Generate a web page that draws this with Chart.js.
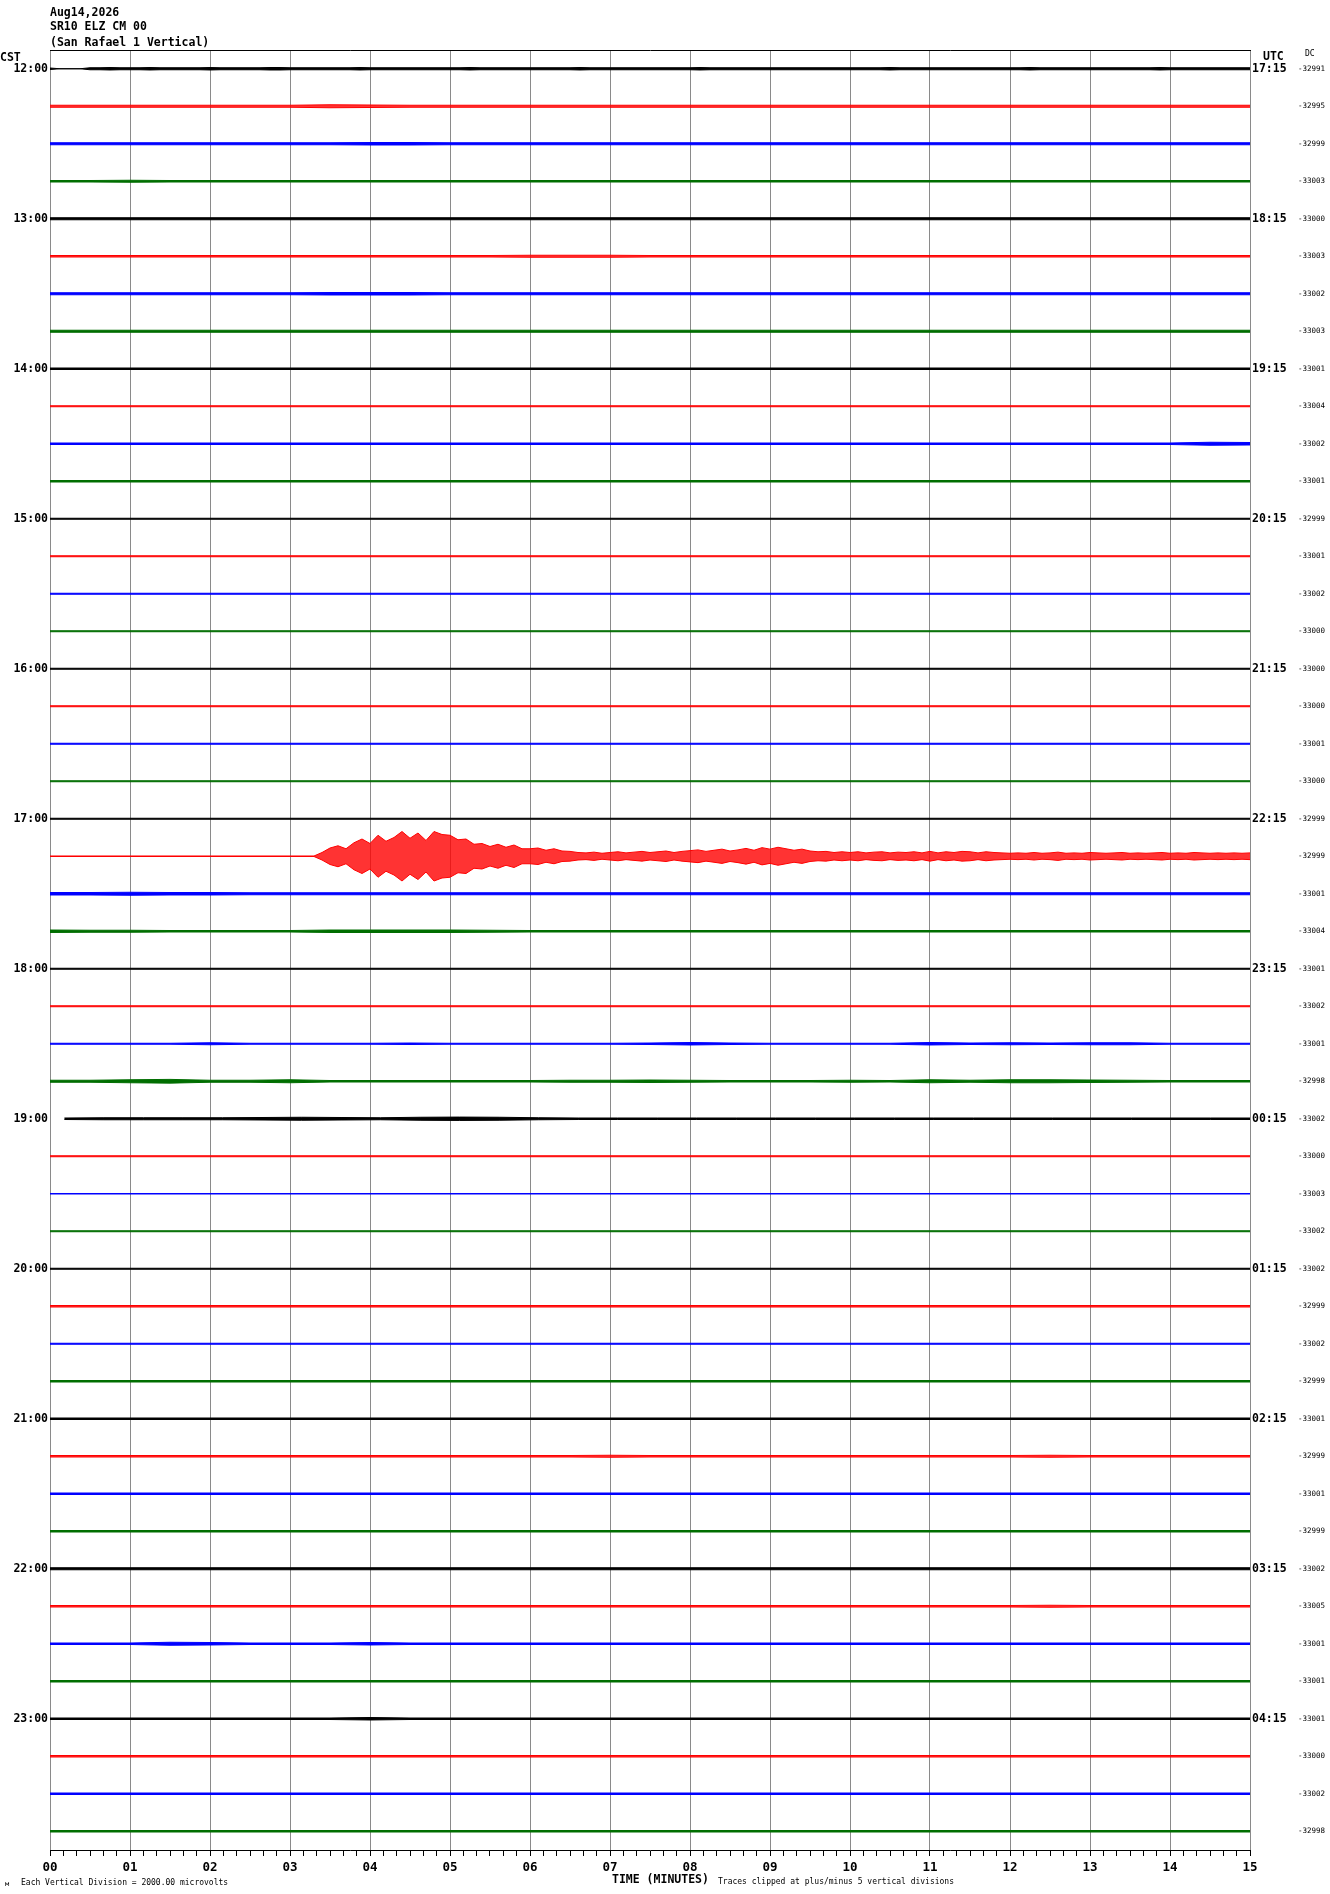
<!DOCTYPE html>
<html><head><meta charset="utf-8">
<script src="https://cdn.jsdelivr.net/npm/chart.js@4.4.1/dist/chart.umd.min.js"></script>
<style>
html,body{margin:0;padding:0;background:#fff;}
#wrap{position:relative;width:1330px;height:1894px;overflow:hidden;background:#fff;}
#c{position:absolute;left:0;top:0;}
.t{position:absolute;font-family:'DejaVu Sans Mono',monospace;color:#000;white-space:pre;}
.b{font-weight:bold;font-size:11.5px;line-height:12px;}
.s{font-size:8px;line-height:9px;}
</style></head><body>
<div id="wrap">
<canvas id="c" width="1330" height="1894"></canvas>
<div class="t b" style="left:50px;top:6px">Aug14,2026</div>
<div class="t b" style="left:50px;top:20px">SR10 ELZ CM 00</div>
<div class="t b" style="left:50px;top:36px">(San Rafael 1 Vertical)</div>
<div class="t b" style="left:0px;top:51px">CST</div>
<div class="t b" style="left:1263px;top:50px">UTC</div>
<div class="t s" style="left:1305px;top:49px">DC</div>
<div class="t b" style="left:612px;top:1873px">TIME (MINUTES)</div>
<div class="t s" style="left:718px;top:1877px">Traces clipped at plus/minus 5 vertical divisions</div>
<div class="t s" style="left:21px;top:1878px">Each Vertical Division = 2000.00 microvolts</div>
<div class="t s" style="left:5px;top:1880px;font-size:7px">м</div>
</div>
<script>
// ---- labels ----
const cstLabels = ['12:00','13:00','14:00','15:00','16:00','17:00','18:00','19:00','20:00','21:00','22:00','23:00'];
const utcLabels = ['17:15','18:15','19:15','20:15','21:15','22:15','23:15','00:15','01:15','02:15','03:15','04:15'];
const minuteLabels = ['00','01','02','03','04','05','06','07','08','09','10','11','12','13','14','15'];
const dcValues = [-32991,-32995,-32999,-33003,-33000,-33003,-33002,-33003,-33001,-33004,-33002,-33001,
  -32999,-33001,-33002,-33000,-33000,-33000,-33001,-33000,-32999,-32999,-33001,-33004,
  -33001,-33002,-33001,-32998,-33002,-33000,-33003,-33002,-33002,-32999,-33002,-32999,
  -33001,-32999,-33001,-32999,-33002,-33005,-33001,-33001,-33001,-33000,-33002,-32998];
const traceColors = ['#000000','#ff0000','#0000ff','#006e00'];
const traceFill = ['#000000','rgba(255,0,0,0.8)','#0000ff','#006e00'];
// first sample time (minutes) of each trace
const traceStart = [0,0,0,0, 0,0,0,0, 0,0,0,0, 0,0,0,0, 0,0,0,0, 0,0,0,0, 0,0,0,0, 0.18,0,0,0, 0,0,0,0, 0,0,0,0, 0,0,0,0, 0,0,0,0];

// ---- trace envelopes: half amplitude, hundredths of trace spacing, evenly spaced in time ----
const t1200 = [2,0,0,0,2.7,2.7,3.3,2.7,2.7,2.7, 3.3,2.7,2.7,2.7,2.7,2.7,3.3,2.7,2.7,2.7, 2.7,2.7,3.3,3.3,2.7,2.7,2.7,2.7,2.7,2.7, 2.7,3.3,2.7,2.7,2.7,2.7,2.7,2.7,2.7,2.7, 2.7,2.7,3.3,2.7,2.7,2.7,2.7,2.7,2.7,2.7, 2.7,2.7,2.7,3.3,2.7,2.7,2.7,2.7,2.7,2.7, 2.7,2.7,2.7,2.7,2.7,3.3,2.7,2.7,2.7,2.7, 2.7,2.7,2.7,2.7,2.7,2.7,2.7,2.7,2.7,2.7, 2.7,2.7,2.7,2.7,3.3,2.7,2.7,2.7,2.7,2.7, 2.7,2.7,2.7,2.7,2.7,2.7,2.7,2.7,3.3,2.7, 2.7,2.7,2.7,2.7,2.7,2.7,2.7,2.7,2.7,2.7, 2.7,3.3,2.7,2.7,2.7,2.7,2.7,2.7,2.7,2.7, 2.7];
const t1215 = [2.7,2.7,2.7,2.7,2.7,2.7,2.7,4,3.3,2.7, 2.7,2.7,2.7,2.7,2.7,2.7,2.7,2.7,2.7,2.7, 2.7,2.7,2.7,2.7,2.7,2.7,2.7,2.7,2.7,2.7, 2.7];
const t1230 = [2.7,2.7,2.7,2.7,2.7,2.7,2.7,2.7,3.3,3.3, 2.7,2.7,2.7,2.7,2.7,2.7,2.7,2.7,2.7,2.7, 2.7,2.7,2.7,2.7,2.7,2.7,2.7,2.7,2.7,2.7, 2.7];
const t1245 = [2,2,2.7,2,2,2,2,2,2,2, 2,2,2,2,2,2,2,2,2,2, 2,2,2,2,2,2,2,2,2,2, 2];
const t1300 = [2.7,2.7,2.7,2.7,2.7,2.7,2.7,2.7,2.7,2.7, 2.7,2.7,2.7,2.7,2.7,2.7,2.7,2.7,2.7,2.7, 2.7,2.7,2.7,2.7,2.7,2.7,2.7,2.7,2.7,2.7, 2.7];
const t1315 = [2,2,2,2,2,2,2,2,2,2, 2,2,2.7,2.7,2.7,2,2,2,2,2, 2,2,2,2,2,2,2,2,2,2, 2];
const t1330 = [2.7,2.7,2.7,2.7,2.7,2.7,2.7,3.3,3.3,3.3, 2.7,2.7,2.7,2.7,2.7,2.7,2.7,2.7,2.7,2.7, 2.7,2.7,2.7,2.7,2.7,2.7,2.7,2.7,2.7,2.7, 2.7];
const t1345 = [2.7,2.7,2.7,2.7,2.7,2.7,2.7,2.7,2.7,2.7, 2.7,2.7,2.7,2.7,2.7,2.7,2.7,2.7,2.7,2.7, 2.7,2.7,2.7,2.7,2.7,2.7,2.7,2.7,2.7,2.7, 2.7];
const t1400 = [2,2,2,2,2,2,2,2,2,2, 2,2,2,2,2,2,2,2,2,2, 2,2,2,2,2,2,2,2,2,2, 2];
const t1415 = [1.3,1.3,1.3,1.3,1.3,1.3,1.3,1.3,1.3,1.3, 1.3,1.3,1.3,1.3,1.3,1.3,1.3,1.3,1.3,1.3, 1.3,1.3,1.3,1.3,1.3,1.3,1.3,1.3,1.3,1.3, 1.3];
const t1430 = [2,2,2,2,2,2,2,2,2,2, 2,2,2,2,2,2,2,2,2,2, 2,2,2,2,2,2,2,2,2,4, 3.3];
const t1445 = [2,2,2,2,2,2,2,2,2,2, 2,2,2,2,2,2,2,2,2,2, 2,2,2,2,2,2,2,2,2,2, 2];
const t1500 = [1.3,1.3,1.3,1.3,1.3,1.3,1.3,1.3,1.3,1.3, 1.3,1.3,1.3,1.3,1.3,1.3,1.3,1.3,1.3,1.3, 1.3,1.3,1.3,1.3,1.3,1.3,1.3,1.3,1.3,1.3, 1.3];
const t1515 = [1.3,1.3,1.3,1.3,1.3,1.3,1.3,1.3,1.3,1.3, 1.3,1.3,1.3,1.3,1.3,1.3,1.3,1.3,1.3,1.3, 1.3,1.3,1.3,1.3,1.3,1.3,1.3,1.3,1.3,1.3, 1.3];
const t1530 = [1.3,1.3,1.3,1.3,1.3,1.3,1.3,1.3,1.3,1.3, 1.3,1.3,1.3,1.3,1.3,1.3,1.3,1.3,1.3,1.3, 1.3,1.3,1.3,1.3,1.3,1.3,1.3,1.3,1.3,1.3, 1.3];
const t1545 = [1.3,1.3,1.3,1.3,1.3,1.3,1.3,1.3,1.3,1.3, 1.3,1.3,1.3,1.3,1.3,1.3,1.3,1.3,1.3,1.3, 1.3,1.3,1.3,1.3,1.3,1.3,1.3,1.3,1.3,1.3, 1.3];
const t1600 = [1.3,1.3,1.3,1.3,1.3,1.3,1.3,1.3,1.3,1.3, 1.3,1.3,1.3,1.3,1.3,1.3,1.3,1.3,1.3,1.3, 1.3,1.3,1.3,1.3,1.3,1.3,1.3,1.3,1.3,1.3, 1.3];
const t1615 = [1.3,1.3,1.3,1.3,1.3,1.3,1.3,1.3,1.3,1.3, 1.3,1.3,1.3,1.3,1.3,1.3,1.3,1.3,1.3,1.3, 1.3,1.3,1.3,1.3,1.3,1.3,1.3,1.3,1.3,1.3, 1.3];
const t1630 = [1.3,1.3,1.3,1.3,1.3,1.3,1.3,1.3,1.3,1.3, 1.3,1.3,1.3,1.3,1.3,1.3,1.3,1.3,1.3,1.3, 1.3,1.3,1.3,1.3,1.3,1.3,1.3,1.3,1.3,1.3, 1.3];
const t1645 = [1.3,1.3,1.3,1.3,1.3,1.3,1.3,1.3,1.3,1.3, 1.3,1.3,1.3,1.3,1.3,1.3,1.3,1.3,1.3,1.3, 1.3,1.3,1.3,1.3,1.3,1.3,1.3,1.3,1.3,1.3, 1.3];
const t1700 = [1.3,1.3,1.3,1.3,1.3,1.3,1.3,1.3,1.3,1.3, 1.3,1.3,1.3,1.3,1.3,1.3,1.3,1.3,1.3,1.3, 1.3,1.3,1.3,1.3,1.3,1.3,1.3,1.3,1.3,1.3, 1.3];
const t1715 = [0.7,0.7,0.7,0.7,0.7,0.7,0.7,0.7,0.7,0.7, 0.7,0.7,0.7,0.7,0.7,0.7,0.7,0.7,0.7,0.7, 0.7,0.7,0.7,0.7,0.7,0.7,0.7,0.7,0.7,0.7, 0.7,0.7,0.7,0.7,
  10,22,28,20,36,46, 34,56,40,50,66,48,62,42,66,58, 56,44,46,32,34,26,32,24,30,20,
  20,22,16,20,14,13,10,9,11,8, 10,12,9,11,13,10,12,14,10,13, 15,17,13,16,19,14,17,21,16,23,
  19,24,20,16,19,14,12,13,10,12, 10,12,9,11,12,9,11,10,12,9, 13,9,12,10,13,12,9,12,10,9,
  8,9,8,10,8,9,11,8,9,8, 10,9,8,9,10,8,9,8,9,10, 8,9,8,10,9,8,9,8,9,8, 9];
const t1730 = [3.3,3.3,4,3.3,3.3,2.7,2.7,2.7,2.7,2.7, 2.7,2.7,2.7,2.7,2.7,2.7,2.7,2.7,2.7,2.7, 2.7,2.7,2.7,2.7,2.7,2.7,2.7,2.7,2.7,2.7, 2.7];
const t1745 = [3.3,2.7,2.7,2,2,2,2,3.3,3.3,3.3, 3.3,2.7,2,2,2,2,2,2,2,2, 2,2,2,2,2,2,2,2,2,2, 2];
const t1800 = [1.3,1.3,1.3,1.3,1.3,1.3,1.3,1.3,1.3,1.3, 1.3,1.3,1.3,1.3,1.3,1.3,1.3,1.3,1.3,1.3, 1.3,1.3,1.3,1.3,1.3,1.3,1.3,1.3,1.3,1.3, 1.3];
const t1815 = [1.3,1.3,1.3,1.3,1.3,1.3,1.3,1.3,1.3,1.3, 1.3,1.3,1.3,1.3,1.3,1.3,1.3,1.3,1.3,1.3, 1.3,1.3,1.3,1.3,1.3,1.3,1.3,1.3,1.3,1.3, 1.3];
const t1830 = [1.3,1.3,1.3,1.3,2.7,1.3,1.3,1.3,1.3,2, 1.3,1.3,1.3,1.3,1.3,2,3.3,2,1.3,1.3, 1.3,1.3,3.3,2,2.7,2,2.7,2.7,1.3,1.3, 1.3];
const t1845 = [2.7,2.7,4,5,2.7,2.7,4,2,2,2, 2,2,2,2.7,2.7,3.3,2.7,2,2,2, 2.7,2,4,2.7,4,4,3.3,2.7,2,2, 2];
const t1900 = [2,2.7,2.7,2.7,2.7,3.3,4,3.3,2.7,4, 4.5,4,2.7,2,2,2,2,2,2,2, 2,2,2,2,2,2,2,2,2,2, 2];
const t1915 = [1.3,1.3,1.3,1.3,1.3,1.3,1.3,1.3,1.3,1.3, 1.3,1.3,1.3,1.3,1.3,1.3,1.3,1.3,1.3,1.3, 1.3,1.3,1.3,1.3,1.3,1.3,1.3,1.3,1.3,1.3, 1.3];
const t1930 = [0.7,0.7,0.7,0.7,0.7,0.7,0.7,0.7,0.7,0.7, 0.7,0.7,0.7,0.7,0.7,0.7,0.7,0.7,0.7,0.7, 0.7,0.7,0.7,0.7,0.7,0.7,0.7,0.7,0.7,0.7, 0.7];
const t1945 = [1.3,1.3,1.3,1.3,1.3,1.3,1.3,1.3,1.3,1.3, 1.3,1.3,1.3,1.3,1.3,1.3,1.3,1.3,1.3,1.3, 1.3,1.3,1.3,1.3,1.3,1.3,1.3,1.3,1.3,1.3, 1.3];
const t2000 = [1.3,1.3,1.3,1.3,1.3,1.3,1.3,1.3,1.3,1.3, 1.3,1.3,1.3,1.3,1.3,1.3,1.3,1.3,1.3,1.3, 1.3,1.3,1.3,1.3,1.3,1.3,1.3,1.3,1.3,1.3, 1.3];
const t2015 = [2,2,2,2,2,2,2,2,2,2, 2,2,2,2,2,2,2,2,2,2, 2,2,2,2,2,2,2,2,2,2, 2];
const t2030 = [1.3,1.3,1.3,1.3,1.3,1.3,1.3,1.3,1.3,1.3, 1.3,1.3,1.3,1.3,1.3,1.3,1.3,1.3,1.3,1.3, 1.3,1.3,1.3,1.3,1.3,1.3,1.3,1.3,1.3,1.3, 1.3];
const t2045 = [2,2,2,2,2,2,2,2,2,2, 2,2,2,2,2,2,2,2,2,2, 2,2,2,2,2,2,2,2,2,2, 2];
const t2100 = [2,2,2,2,2,2,2,2,2,2, 2,2,2,2,2,2,2,2,2,2, 2,2,2,2,2,2,2,2,2,2, 2];
const t2115 = [2,2,2,2,2,2,2,2,2,2, 2,2,2,2,2.7,2,2,2,2,2, 2,2,2,2,2,2.7,2,2,2,2, 2];
const t2130 = [2,2,2,2,2,2,2,2,2,2, 2,2,2,2,2,2,2,2,2,2, 2,2,2,2,2,2,2,2,2,2, 2];
const t2145 = [2,2,2,2,2,2,2,2,2,2, 2,2,2,2,2,2,2,2,2,2, 2,2,2,2,2,2,2,2,2,2, 2];
const t2200 = [2.7,2.7,2.7,2.7,2.7,2.7,2.7,2.7,2.7,2.7, 2.7,2.7,2.7,2.7,2.7,2.7,2.7,2.7,2.7,2.7, 2.7,2.7,2.7,2.7,2.7,2.7,2.7,2.7,2.7,2.7, 2.7];
const t2215 = [2,2,2,2,2,2,2,2,2,2, 2,2,2,2,2,2,2,2,2,2, 2,2,2,2,2,2.7,2,2,2,2, 2];
const t2230 = [2,2,2,4,3.3,2,2,2,3.3,2, 2,2,2,2,2,2,2,2,2,2, 2,2,2,2,2,2,2,2,2,2, 2];
const t2245 = [2,2,2,2,2,2,2,2,2,2, 2,2,2,2,2,2,2,2,2,2, 2,2,2,2,2,2,2,2,2,2, 2];
const t2300 = [2,2,2,2,2,2,2,2,3.3,2, 2,2,2,2,2,2,2,2,2,2, 2,2,2,2,2,2,2,2,2,2, 2];
const t2315 = [2,2,2,2,2,2,2,2,2,2, 2,2,2,2,2,2,2,2,2,2, 2,2,2,2,2,2,2,2,2,2, 2];
const t2330 = [2,2,2,2,2,2,2,2,2,2, 2,2,2,2,2,2,2,2,2,2, 2,2,2,2,2,2,2,2,2,2, 2];
const t2345 = [2,2,2,2,2,2,2,2,2,2, 2,2,2,2,2,2,2,2,2,2, 2,2,2,2,2,2,2,2,2,2, 2];

const traceAmps = [t1200,t1215,t1230,t1245,t1300,t1315,t1330,t1345,t1400,t1415,t1430,t1445,
  t1500,t1515,t1530,t1545,t1600,t1615,t1630,t1645,t1700,t1715,t1730,t1745,
  t1800,t1815,t1830,t1845,t1900,t1915,t1930,t1945,t2000,t2015,t2030,t2045,
  t2100,t2115,t2130,t2145,t2200,t2215,t2230,t2245,t2300,t2315,t2330,t2345];

const TRACE_END = 15;
const datasets = [];
traceAmps.forEach((amps, i) => {
  const col = traceColors[i % 4];
  const s = traceStart[i];
  const step = (TRACE_END - s) / (amps.length - 1);
  const upper = amps.map((a, k) => ({x: s + k * step, y: i - a / 100}));
  const lower = amps.map((a, k) => ({x: s + k * step, y: i + a / 100}));
  datasets.push({data: upper, borderColor: col, borderWidth: 1, pointRadius: 0, fill: false, tension: 0});
  datasets.push({data: lower, borderColor: col, backgroundColor: traceFill[i % 4], borderWidth: 1, pointRadius: 0, fill: '-1', tension: 0});
});

const rowTicks4 = cstLabels.map((_, j) => ({value: j * 4}));
const allRowTicks = dcValues.map((_, j) => ({value: j}));
const boldFont = {family: 'DejaVu Sans Mono', weight: 'bold', size: 11.5};

new Chart(document.getElementById('c'), {
  type: 'line',
  data: {datasets},
  options: {
    responsive: false, animation: false, devicePixelRatio: 1, events: [],
    layout: {padding: {top: 50, left: 0, right: 0, bottom: 0}},
    plugins: {legend: {display: false}, tooltip: {enabled: false}},
    scales: {
      x: {
        type: 'linear', position: 'bottom', min: 0, max: 15,
        afterBuildTicks: s => { s.ticks = Array.from({length: 91}, (_, k) => ({value: k / 6})); },
        afterFit: s => { s.height = 44; },
        ticks: {autoSkip: false, maxRotation: 0, minRotation: 0, padding: 4, color: '#000', font: {family: 'DejaVu Sans Mono', weight: 'bold', size: 12.5},
          callback: (v, idx) => idx % 6 === 0 ? minuteLabels[idx / 6] : ''},
        grid: {drawOnChartArea: true, drawTicks: true, tickLength: 6, lineWidth: 1,
          color: ctx => (ctx.index % 6 === 0 ? '#8a8a8a' : 'rgba(0,0,0,0)'), tickColor: '#000'},
        border: {display: true, color: '#000', width: 1}
      },
      xTop: {
        type: 'linear', position: 'top', min: 0, max: 15,
        afterFit: s => { s.height = 0; },
        ticks: {display: false}, grid: {display: false, drawTicks: false},
        border: {display: true, color: '#000', width: 1}
      },
      y: {
        type: 'linear', position: 'left', min: -0.5, max: 47.5, reverse: true,
        afterBuildTicks: s => { s.ticks = rowTicks4.map(t => ({value: t.value})); },
        afterFit: s => { s.width = 50; },
        ticks: {autoSkip: false, padding: 2, color: '#000', font: boldFont, callback: (v, idx) => cstLabels[idx]},
        grid: {display: false, drawTicks: false}, border: {display: false}
      },
      y2: {
        type: 'linear', position: 'right', min: -0.5, max: 47.5, reverse: true,
        afterBuildTicks: s => { s.ticks = rowTicks4.map(t => ({value: t.value})); },
        afterFit: s => { s.width = 47; },
        ticks: {autoSkip: false, padding: 2, color: '#000', font: boldFont, callback: (v, idx) => utcLabels[idx]},
        grid: {display: false, drawTicks: false}, border: {display: false}
      },
      y3: {
        type: 'linear', position: 'right', min: -0.5, max: 47.5, reverse: true,
        afterBuildTicks: s => { s.ticks = allRowTicks.map(t => ({value: t.value})); },
        afterFit: s => { s.width = 33; },
        ticks: {autoSkip: false, padding: 1, color: '#000', font: {family: 'DejaVu Sans Mono', size: 7.5}, callback: (v, idx) => String(dcValues[idx])},
        grid: {display: false, drawTicks: false}, border: {display: false}
      }
    }
  }
});
</script>
</body></html>
